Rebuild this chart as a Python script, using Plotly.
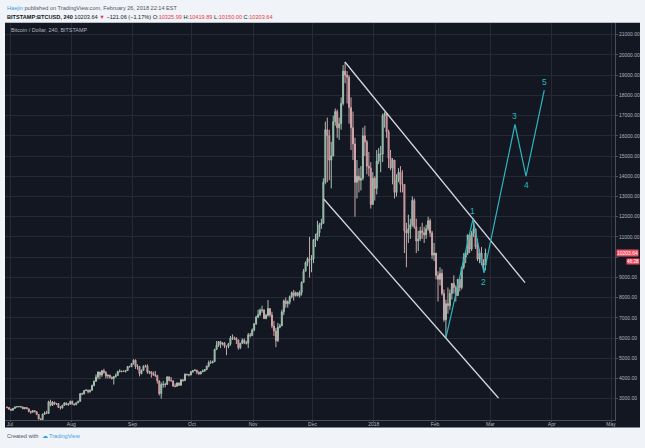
import pandas as pd
import plotly.graph_objects as go

# ---------------- data (daily candles) ----------------
first_open = 2590
jun_close = [2560, 2480]
jun_high = [2600, 2570]
jun_low = [2520, 2450]

jul_close = [2430, 2520, 2590, 2600, 2610, 2590, 2500, 2560, 2500, 2370, 2330, 2400, 2350, 2220, 1990, 1960,
             2230, 2300, 2270, 2850, 2670, 2830, 2740, 2760, 2570, 2540, 2670, 2790, 2700, 2740, 2870]
jul_high = [2500, 2540, 2610, 2630, 2640, 2620, 2600, 2580, 2580, 2510, 2400, 2440, 2430, 2380, 2230, 2030,
            2260, 2370, 2400, 2900, 2950, 2880, 2850, 2790, 2780, 2630, 2700, 2820, 2800, 2760, 2900]
jul_low = [2400, 2410, 2500, 2570, 2580, 2560, 2480, 2480, 2490, 2320, 2250, 2320, 2340, 2190, 1990, 1950,
           1960, 2200, 2240, 2260, 2620, 2650, 2690, 2680, 2540, 2460, 2510, 2650, 2680, 2650, 2700]

aug_close = [2730, 2700, 2800, 2870, 3250, 3230, 3400, 3420, 3340, 3420, 3650, 3860, 4070, 4320, 4170, 4380,
             4290, 4120, 4170, 4070, 4000, 4090, 4150, 4340, 4360, 4350, 4350, 4390, 4590, 4580, 4740]
aug_high = [2900, 2760, 2810, 2900, 3280, 3300, 3420, 3480, 3440, 3450, 3700, 3900, 4200, 4350, 4300, 4420,
            4480, 4370, 4180, 4150, 4080, 4120, 4250, 4380, 4450, 4380, 4400, 4400, 4620, 4630, 4760]
aug_low = [2700, 2660, 2680, 2780, 2850, 3170, 3220, 3380, 3260, 3300, 3400, 3610, 3830, 3950, 3970, 4080,
           4240, 3990, 4000, 3980, 3950, 3700, 4050, 4130, 4300, 4300, 4330, 4290, 4370, 4540, 4570]

sep_close = [4900, 4580, 4600, 4240, 4390, 4600, 4620, 4310, 4330, 4240, 4200, 4150, 3880, 3250, 3700,
             3710, 3700, 4080, 3910, 3880, 3620, 3610, 3780, 3660, 3930, 3890, 4210, 4190, 4170, 4340]
sep_high = [4950, 4940, 4700, 4600, 4450, 4650, 4680, 4700, 4380, 4350, 4340, 4370, 3950, 3900, 3800,
            3880, 3790, 4100, 4090, 4070, 3900, 3750, 3800, 3790, 3970, 3960, 4250, 4230, 4220, 4360]
sep_low = [4680, 4470, 4430, 4100, 4200, 4390, 4540, 4230, 4210, 4040, 4120, 4070, 3750, 3160, 3000,
           3540, 3560, 3710, 3850, 3850, 3590, 3560, 3610, 3640, 3650, 3850, 3890, 4140, 4100, 4160]

oct_close = [4390, 4400, 4310, 4220, 4330, 4370, 4440, 4610, 4780, 4770, 4830, 5440, 5640, 5820, 5690, 5760,
             5600, 5580, 5710, 6000, 6010, 5980, 5900, 5520, 5740, 5890, 5770, 5740, 6150, 6130, 6400]
oct_high = [4420, 4470, 4440, 4350, 4360, 4440, 4460, 4630, 4880, 4900, 4880, 5460, 5850, 5850, 5860, 5780,
            5800, 5620, 5760, 6100, 6180, 6070, 6040, 5920, 5760, 5980, 5980, 5860, 6250, 6250, 6470]
oct_low = [4270, 4360, 4210, 4180, 4210, 4310, 4330, 4410, 4550, 4730, 4760, 4820, 5400, 5560, 5500, 5630,
           5500, 5150, 5490, 5620, 5900, 5900, 5700, 5420, 5450, 5700, 5700, 5680, 5500, 6030, 6090]

nov_close = [6700, 7030, 7160, 7380, 7380, 6960, 7120, 7460, 7140, 6590, 6350, 5870, 6530, 6600, 7290,
             7830, 7700, 7780, 8040, 8240, 8100, 8240, 8100, 8250, 8750, 9300, 9730, 9920, 9870, 9900]
nov_high = [6740, 7100, 7400, 7460, 7600, 7420, 7200, 7880, 7460, 7300, 6850, 6500, 6750, 6700, 7400,
            7900, 8000, 7860, 8100, 8300, 8380, 8300, 8260, 8350, 8800, 9420, 9790, 10000, 11000, 10100]
nov_low = [6330, 6650, 6980, 7080, 7250, 6940, 6930, 7060, 7050, 6480, 6100, 5550, 5800, 6480, 6600,
           7130, 7500, 7500, 7660, 7960, 7850, 8050, 8050, 8000, 8100, 8760, 9300, 9550, 8990, 9250]

dec_close = [10850, 10890, 11200, 11600, 11670, 13700, 16300, 16000, 14800, 15000, 16700, 17200, 16400, 16600,
             17600, 19200, 19000, 18900, 17400, 16400, 15600, 13700, 14000, 13800, 13900, 16000, 15700, 14500,
             14400, 12600, 13900]
dec_high = [10900, 11150, 11800, 11700, 11900, 13900, 16700, 16900, 16300, 15700, 17000, 17350, 17300, 16900,
            17900, 19500, 19650, 19200, 19000, 17900, 17200, 15900, 14800, 14400, 14500, 16400, 16500, 15800,
            15200, 14700, 14200]
dec_low = [9700, 10500, 10800, 11000, 11400, 11700, 13600, 13700, 13800, 13400, 15000, 16500, 15900, 15800,
           16300, 17500, 18600, 17600, 16600, 15300, 14800, 12000, 12900, 13200, 13300, 13800, 15000, 14100,
           14000, 12400, 12800]

jan_close = [13400, 14750, 15100, 15100, 17000, 17100, 16200, 14900, 14400, 14800, 13200, 13800, 14200, 13600,
             13600, 11300, 11200, 11400, 11600, 12800, 11500, 10800, 10900, 11300, 11200, 11100, 11400, 11800,
             11200, 10100, 10200]
jan_high = [14000, 15300, 15400, 15500, 17100, 17170, 17100, 16300, 15300, 14900, 14800, 14100, 14400, 14500,
            14300, 13600, 11700, 12100, 11900, 13000, 12900, 11900, 11300, 11500, 11700, 11500, 11600, 12000,
            11900, 11300, 10700]
jan_low = [12800, 13100, 14600, 14200, 14700, 16400, 15900, 14400, 14300, 13600, 12900, 13000, 13700, 13200,
           13200, 10200, 9500, 10700, 10900, 11500, 11400, 10200, 10300, 10800, 10900, 10700, 10900, 11300,
           11000, 9900, 9800]

feb_close = [9100, 8900, 9200, 8200, 6900, 7700, 7600, 8200, 8700, 8500, 8100, 8900, 8500, 9500, 10000, 10200,
             11100, 10400, 11200, 11400, 10500, 9900, 10200, 9700, 9600, 10203.64]
feb_high = [10200, 9300, 9500, 9400, 8400, 7900, 8500, 8400, 8700, 9100, 8600, 8900, 8900, 9500, 10200, 10300,
            11100, 11100, 11300, 11900, 11300, 10900, 10400, 10500, 9900, 10420]
feb_low = [8900, 7800, 8600, 8100, 6800, 6000, 7200, 7400, 7900, 8200, 7800, 8100, 8300, 8400, 9400, 9700,
           10100, 10200, 10300, 11000, 10400, 9800, 9700, 9600, 9300, 9350]

# drawings
upper_line_dates = ["2017-12-17 10:00", "2018-03-18 12:00"]
upper_line_prices = [19650, 8735]
lower_line_dates = ["2017-12-06 19:00", "2018-03-05 02:00"]
lower_line_prices = [12860, 3035]
wave_dates = ["2018-02-06 13:00", "2018-02-20 04:00", "2018-02-25 18:00", "2018-03-13 10:00",
              "2018-03-19 00:00", "2018-03-28 06:00"]
wave_prices = [6030, 11885, 9215, 16570, 14010, 18265]
wave_labels = ["", "1", "2", "3", "4", "5"]

month_ticks = ["2017-07-01", "2017-08-01", "2017-09-01", "2017-10-01", "2017-11-01", "2017-12-01",
               "2018-01-01", "2018-02-01", "2018-03-01", "2018-04-01", "2018-05-01"]
month_labels = ["Jul", "Aug", "Sep", "Oct", "Nov", "Dec", "2018", "Feb", "Mar", "Apr", "May"]
price_ticks = [3000, 4000, 5000, 6000, 7000, 8000, 9000, 10000, 11000, 12000, 13000, 14000, 15000,
               16000, 17000, 18000, 19000, 20000, 21000]
hidden_price_label = 10000  # covered by the last-price marker in the reference
last_price = 10203.64
countdown_price = 9808

# ---------------- build ----------------
closes = (jun_close + jul_close + aug_close + sep_close + oct_close + nov_close + dec_close +
          jan_close + feb_close)
highs = jun_high + jul_high + aug_high + sep_high + oct_high + nov_high + dec_high + jan_high + feb_high
lows = jun_low + jul_low + aug_low + sep_low + oct_low + nov_low + dec_low + jan_low + feb_low
opens = [first_open] + closes[:-1]
highs = [max(h, o, c) for h, o, c in zip(highs, opens, closes)]
lows = [min(l, o, c) for l, o, c in zip(lows, opens, closes)]
dates = pd.date_range("2017-06-29", periods=len(closes), freq="D") + pd.Timedelta(hours=12)
price_text = ["" if v == hidden_price_label else f"{v:.2f}" for v in price_ticks]

BG_DARK = "#131722"
BG_LIGHT = "#f0f3f7"
GRID = "#262a35"
AXIS = "#4a4f5b"
TXT = "#b2b5be"
TEAL = "#2cb6bf"
FONT = "Liberation Sans"

fig = go.Figure()
fig.add_trace(go.Candlestick(
    x=dates, open=opens, high=highs, low=lows, close=closes,
    increasing=dict(line=dict(color="#a6c2b2", width=1), fillcolor="#3fae7a"),
    decreasing=dict(line=dict(color="#cfa5ab", width=1), fillcolor="#e84f5c"),
    whiskerwidth=0, showlegend=False, hoverinfo="skip"))

fig.add_trace(go.Scatter(x=pd.to_datetime(upper_line_dates), y=upper_line_prices, mode="lines",
                         line=dict(color="#d6d8de", width=1.3), showlegend=False, hoverinfo="skip"))
fig.add_trace(go.Scatter(x=pd.to_datetime(lower_line_dates), y=lower_line_prices, mode="lines",
                         line=dict(color="#d6d8de", width=1.3), showlegend=False, hoverinfo="skip"))
fig.add_trace(go.Scatter(x=pd.to_datetime(wave_dates), y=wave_prices, mode="lines",
                         line=dict(color=TEAL, width=1.2), showlegend=False, hoverinfo="skip"))

annotations = []
for i, (d, p, lab) in enumerate(zip(wave_dates, wave_prices, wave_labels)):
    if not lab:
        continue
    up = i % 2 == 1
    annotations.append(dict(x=pd.Timestamp(d), y=p, xref="x", yref="y", text=lab, showarrow=False,
                            yshift=8 if up else -9, font=dict(family=FONT, size=8.5, color=TEAL)))

W, H = 645, 448
L, R, T, B = 5, 30, 23, 28
pw, ph = W - L - R, H - T - B


def px_x(x):
    return (x - L) / pw


def px_y(y):
    return (H - B - y) / ph


header1 = ('<span style="color:#3a9ee6">Haejin</span>'
           '<span style="color:#50535e"> published on TradingView.com, February 26, 2018 22:14 EST</span>')
header2 = ('<b>BITSTAMP:BTCUSD, 240</b> <span style="color:#131722">10203.64</span> '
           '<span style="color:#e33b4a">▼</span> <span style="color:#131722">−121.06 (−1.17%)</span> '
           'O:<span style="color:#e33b4a">10325.99</span> H:<span style="color:#e33b4a">10419.89</span> '
           'L:<span style="color:#e33b4a">10150.00</span> C:<span style="color:#e33b4a">10203.64</span>')
annotations += [
    dict(x=px_x(5), y=px_y(8.3), xref="paper", yref="paper", xanchor="left", yanchor="middle",
         text=header1, showarrow=False, font=dict(family=FONT, size=5.6, color="#50535e")),
    dict(x=px_x(5), y=px_y(16.5), xref="paper", yref="paper", xanchor="left", yanchor="middle",
         text=header2, showarrow=False, font=dict(family=FONT, size=5.6, color="#131722")),
    dict(x=px_x(9), y=px_y(30), xref="paper", yref="paper", xanchor="left", yanchor="middle",
         text="Bitcoin / Dollar, 240, BITSTAMP", showarrow=False, font=dict(family=FONT, size=5.4, color=TXT)),
    dict(x=px_x(5), y=px_y(435.7), xref="paper", yref="paper", xanchor="left", yanchor="middle",
         text='Created with  <span style="color:#3a9ee6">☁ TradingView</span>', showarrow=False,
         font=dict(family=FONT, size=5.6, color="#50535e")),
    dict(x=px_x(616), y=last_price, xref="paper", yref="y", xanchor="left", yanchor="middle",
         text="10203.64", showarrow=False, bgcolor="#ef4f5e", borderpad=0,
         font=dict(family=FONT, size=5, color="#ffffff")),
    dict(x=px_x(640), y=countdown_price, xref="paper", yref="y", xanchor="right", yanchor="middle",
         text="46:28", showarrow=False, bgcolor="#ef4f5e", borderpad=0,
         font=dict(family=FONT, size=4.6, color="#ffffff")),
]

shapes = [dict(type="rect", xref="paper", yref="paper", x0=px_x(5), x1=px_x(640), y0=px_y(427.5), y1=px_y(22.7),
               fillcolor=BG_DARK, line=dict(width=0), layer="below")]

origin = pd.Timestamp("2017-07-01")
x_start = origin + pd.Timedelta(days=(L - 10) / 1.977)
x_end = origin + pd.Timedelta(days=(L + pw - 10) / 1.977)

fig.update_layout(
    width=W, height=H, margin=dict(l=L, r=R, t=T, b=B, pad=0),
    paper_bgcolor=BG_LIGHT, plot_bgcolor=BG_DARK,
    font=dict(family=FONT, size=5, color=TXT),
    annotations=annotations, shapes=shapes, showlegend=False,
)
fig.update_xaxes(range=[x_start, x_end], tickvals=pd.to_datetime(month_ticks), ticktext=month_labels,
                 showgrid=True, gridcolor=GRID, gridwidth=1, showline=True, linecolor=AXIS, linewidth=1,
                 ticks="outside", ticklen=1, tickcolor=AXIS, ticklabelstandoff=-2,
                 tickfont=dict(family=FONT, size=5, color=TXT),
                 rangeslider_visible=False, zeroline=False, fixedrange=True)
fig.update_yaxes(side="right", range=[1945, 21579], tickvals=price_ticks, ticktext=price_text,
                 showgrid=True, gridcolor=GRID, gridwidth=1, showline=True, linecolor=AXIS, linewidth=1,
                 ticks="outside", ticklen=2, tickcolor=AXIS, tickfont=dict(family=FONT, size=5, color=TXT),
                 zeroline=False, fixedrange=True)

fig.write_html("out.html")
